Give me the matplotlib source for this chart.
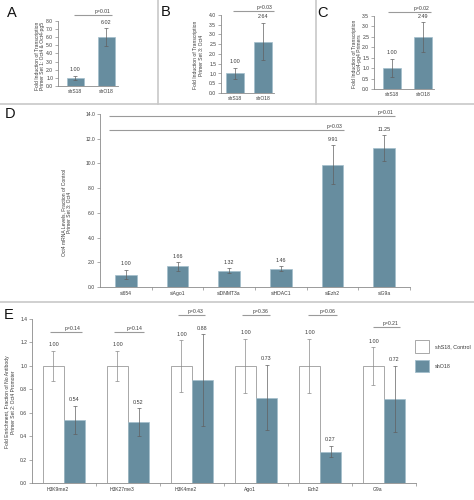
import matplotlib
matplotlib.use("Agg")
import matplotlib.pyplot as plt
from matplotlib.patches import Rectangle
from matplotlib.lines import Line2D
import numpy as np

plt.rcParams['font.family'] = ['Liberation Sans', 'DejaVu Sans']

W, H = 474, 500
BLUE = '#678d9f'
BEDGE = '#a3bfcc'
TXT = '#3a3a3a'
SP = '#8a8a8a'
ERR = '#606060'
TFS = 3.6
VFS = 3.9

# ---- data ----
a_cats = ['shS18', 'shO18']
a_vals = [1.00, 6.02]
a_err = [0.25, 1.10]
a_p = 'p=0.01'

b_cats = ['shS18', 'shO18']
b_vals = [1.00, 2.64]
b_err = [0.30, 0.97]
b_p = 'p=0.03'

c_cats = ['shS18', 'shO18']
c_vals = [1.00, 2.49]
c_err = [0.44, 0.70]
c_p = 'p=0.02'

d_cats = ['si654', 'siAgo1', 'siDNMT3a', 'siHDAC1', 'siEzh2', 'siG9a']
d_vals = [1.00, 1.66, 1.32, 1.46, 9.91, 11.25]
d_err = [0.38, 0.35, 0.20, 0.20, 1.55, 1.05]
d_p = ['p=0.01', 'p=0.03']

e_cats = ['H3K9me2', 'H3K27me3', 'H3K4me2', 'Ago1', 'Ezh2', 'G9a']
e_ctrl = [1.00, 1.00, 1.00, 1.00, 1.00, 1.00]
e_ctrl_err = [0.13, 0.13, 0.22, 0.23, 0.23, 0.16]
e_sh = [0.54, 0.52, 0.88, 0.73, 0.27, 0.72]
e_sh_err = [0.12, 0.12, 0.39, 0.28, 0.05, 0.28]
e_p = ['p=0.14', 'p=0.14', 'p=0.43', 'p=0.36', 'p=0.06', 'p=0.21']
e_legend = ['shS18, Control', 'shO18']

fig = plt.figure(figsize=(W / 100, H / 100), dpi=100)
fig.patch.set_facecolor('white')


def px_axes(x0, yt, x1, yb):
    return fig.add_axes([x0 / W, 1 - yb / H, (x1 - x0) / W, (yb - yt) / H])


def style(ax):
    for s in ['top', 'right']:
        ax.spines[s].set_visible(False)
    for s in ['left', 'bottom']:
        ax.spines[s].set_color(SP)
        ax.spines[s].set_linewidth(0.6)
    ax.tick_params(axis='both', colors=SP, labelcolor=TXT, labelsize=TFS,
                   length=2, width=0.5, pad=1.5)
    ax.patch.set_alpha(0)


def ptext(ax, x0, x1, y, label):
    ax.plot([x0, x1], [y, y], color='#9a9a9a', lw=0.8, clip_on=False,
            solid_capstyle='butt')
    ax.annotate(label, (x1, y), xytext=(-1, 0.8), textcoords='offset points',
                ha='right', va='bottom', fontsize=VFS - 0.2, color=TXT,
                annotation_clip=False)


def vlabels(ax, xs, vals, errs):
    for x, v, e in zip(xs, vals, errs):
        ax.annotate('%.2f' % v, (x, v + e), xytext=(0, 2.5),
                    textcoords='offset points', ha='center', va='bottom',
                    fontsize=VFS, color=TXT, annotation_clip=False)


def small_panel(rect, cats, vals, errs, ylim, step, xlim, width, pline, p):
    ax = px_axes(*rect)
    style(ax)
    xs = np.arange(len(cats))
    ax.bar(xs, vals, width=width, color=BLUE, edgecolor=BEDGE, linewidth=0.5,
           zorder=2)
    ax.errorbar(xs, vals, yerr=errs, fmt='none', ecolor=ERR, elinewidth=0.5,
                capsize=1.2, capthick=0.5, zorder=3)
    ax.set_ylim(0, ylim)
    ax.set_xlim(*xlim)
    ticks = np.arange(0, ylim + 1e-9, step)
    ax.set_yticks(ticks)
    ax.set_yticklabels(['%.1f' % t for t in ticks])
    ax.set_xticks(xs)
    ax.set_xticklabels(cats)
    ax.tick_params(axis='x', length=0, pad=2)
    vlabels(ax, xs, vals, errs)
    ptext(ax, pline[0], pline[1], pline[2], p)
    return ax


# Panel A
small_panel((58, 21, 118, 86), a_cats, a_vals, a_err, 8, 1.0,
            (-0.55, 1.385), 0.55, (-0.03, 1.19, 8.74), a_p)
# Panel B
small_panel((221, 15, 274, 93), b_cats, b_vals, b_err, 4, 0.5,
            (-0.5, 1.39), 0.62, (-0.07, 1.39, 4.2), b_p)
# Panel C
small_panel((374, 16, 434, 89), c_cats, c_vals, c_err, 3.5, 0.5,
            (-0.58, 1.355), 0.57, (-0.13, 1.26, 3.69), c_p)

# Panel D
axd = px_axes(100, 114, 410, 287)
style(axd)
xd = np.arange(len(d_cats)) + 0.5
axd.bar(xd, d_vals, width=0.42, color=BLUE, edgecolor=BEDGE, linewidth=0.5,
        zorder=2)
axd.errorbar(xd, d_vals, yerr=d_err, fmt='none', ecolor=ERR, elinewidth=0.5,
             capsize=1.3, capthick=0.5, zorder=3)
axd.set_ylim(0, 14)
axd.set_xlim(0, 6)
dt = np.arange(0, 14.01, 2)
axd.set_yticks(dt)
axd.set_yticklabels(['%.1f' % t for t in dt])
axd.set_xticks(np.arange(1, 7))
axd.set_xticklabels([])
axd.set_xticks(xd, minor=True)
axd.set_xticklabels(d_cats, minor=True)
axd.tick_params(axis='x', which='minor', length=0, pad=3, labelsize=TFS,
                labelcolor=TXT)
vlabels(axd, xd, d_vals, d_err)
ptext(axd, 0.17, 5.71, 13.86, d_p[0])
ptext(axd, 0.17, 4.72, 12.68, d_p[1])

# Panel E
axe = px_axes(32, 319, 416, 483.3)
style(axe)
xe = np.arange(len(e_cats)) + 0.5
bw = 0.33
axe.bar(xe - bw / 2, e_ctrl, width=bw, color='white', edgecolor='#9a9a9a',
        linewidth=0.6, zorder=2)
axe.bar(xe + bw / 2, e_sh, width=bw, color=BLUE, edgecolor=BEDGE,
        linewidth=0.5, zorder=2)
axe.errorbar(xe - bw / 2, e_ctrl, yerr=e_ctrl_err, fmt='none', ecolor='#8a8a8a',
             elinewidth=0.5, capsize=1.3, capthick=0.5, zorder=3)
axe.errorbar(xe + bw / 2, e_sh, yerr=e_sh_err, fmt='none', ecolor=ERR,
             elinewidth=0.5, capsize=1.3, capthick=0.5, zorder=3)
axe.set_ylim(0, 1.4)
axe.set_xlim(0, 6)
et = np.arange(0, 1.41, 0.2)
axe.set_yticks(et)
axe.set_yticklabels(['%.1f' % t for t in et])
axe.set_xticks(np.arange(1, 7))
axe.set_xticklabels([])
axe.set_xticks(xe - 0.1, minor=True)
axe.set_xticklabels(e_cats, minor=True)
axe.tick_params(axis='x', which='minor', length=0, pad=3, labelsize=TFS,
                labelcolor=TXT)
vlabels(axe, xe - bw / 2, e_ctrl, e_ctrl_err)
vlabels(axe, xe + bw / 2, e_sh, e_sh_err)
e_pl = [(0.28, 0.78, 1.29), (1.28, 1.75, 1.29), (2.28, 2.70, 1.43),
        (3.28, 3.72, 1.43), (4.31, 4.77, 1.43), (5.33, 5.75, 1.33)]
for (x0, x1, y), p in zip(e_pl, e_p):
    ptext(axe, x0, x1, y, p)

# Legend (manual, pixel coords)
for (yt, yb), fc, ec, lab in [((340, 353), 'white', '#9a9a9a', e_legend[0]),
                              ((360, 372), BLUE, BEDGE, e_legend[1])]:
    fig.add_artist(Rectangle((415 / W, 1 - yb / H), 14 / W, (yb - yt) / H,
                             transform=fig.transFigure, facecolor=fc,
                             edgecolor=ec, linewidth=0.6))
    fig.text(435 / W, 1 - (yt + yb) / 2 / H, lab, fontsize=VFS, color=TXT,
             ha='left', va='center')

# y labels
ylabels = [
    (40, 56, 'Fold Induction of Transcription\nPrimer Set 1: Oct4 & Oct4-pg5'),
    (198.5, 55, 'Fold Induction of Transcription\nPrimer Set 3: Oct4'),
    (357, 54, 'Fold Induction of Transcription\nOct4-pg4 Primers'),
    (66.5, 212, 'Oct4 mRNA Levels, Fraction of Control\nPrimer Set 3: Oct4'),
    (10.5, 402, 'Fold Enrichment, Fraction of No Antibody\nPrimer Set 2: Oct4 Promoter'),
]
for x, y, s in ylabels:
    fig.text(x / W, 1 - y / H, s, rotation=90, ha='center', va='center',
             multialignment='center', fontsize=TFS, color=TXT, linespacing=1.1)

# panel letters
for x, y, s in [(12, 13, 'A'), (166, 12, 'B'), (322, 13, 'C'),
                (10, 114, 'D'), (9, 315, 'E')]:
    fig.text(x / W, 1 - y / H, s, fontsize=10.5, color='#111111',
             ha='center', va='center')

# panel borders
BC = '#c8c8c8'
for xs_, ys_ in [((0, W), (104, 104)), ((0, W), (302, 302)),
                 ((158, 158), (0, 104)), ((316, 316), (0, 104))]:
    fig.add_artist(Line2D([xs_[0] / W, xs_[1] / W],
                          [1 - ys_[0] / H, 1 - ys_[1] / H],
                          transform=fig.transFigure, color=BC, lw=1.2))

fig.savefig('out.png', dpi=100, facecolor='white')
